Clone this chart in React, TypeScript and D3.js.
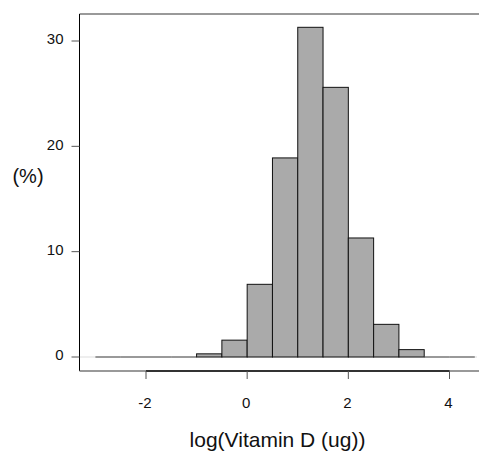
import React from "react";
import * as d3 from "d3";

const binStarts = [-3, -2.5, -2, -1.5, -1, -0.5, 0, 0.5, 1, 1.5, 2, 2.5, 3, 3.5, 4];
const binWidth = 0.5;
const percents = [0, 0, 0, 0, 0.3, 1.6, 6.9, 18.9, 31.3, 25.6, 11.3, 3.1, 0.7, 0, 0];
const xTicks = [-2, 0, 2, 4];
const yTicks = [0, 10, 20, 30];
const xTitle = "log(Vitamin D (ug))";
const yTitle = "(%)";

export default function App() {
  const W = 479, H = 452;
  const x = d3.scaleLinear().domain([-2, 4]).range([146, 449.5]);
  const y = d3.scaleLinear().domain([0, 30]).range([357, 41]);
  const left = 79.5, top = 14, bottom = 371, right = 479;
  const font = "Liberation Sans, Arial, sans-serif";
  return (
    <svg width={W} height={H} style={{ position: "absolute", left: 0, top: 0 }} fontFamily={font}>
      <rect width={W} height={H} fill="#fff" />
      <line x1={left} x2={right} y1={top} y2={top} stroke="#777" strokeWidth={1.5} />
      <line x1={left} x2={right - 2} y1={y(0)} y2={y(0)} stroke="#ddd" strokeWidth={1} />
      {binStarts.map((b, i) => {
        const x0 = x(b), x1 = x(b + binWidth);
        const yt = y(percents[i]);
        if (percents[i] === 0) {
          return <line key={i} x1={x0} x2={x1} y1={y(0)} y2={y(0)} stroke="#444" strokeWidth={1} />;
        }
        return (
          <rect key={i} x={x0} y={yt} width={x1 - x0} height={y(0) - yt} fill="#aaaaaa" stroke="#111" strokeWidth={1} />
        );
      })}
      <line x1={left} x2={left} y1={top} y2={bottom} stroke="#000" strokeWidth={1} />
      {yTicks.map((t) => (
        <g key={t}>
          <line x1={left - 8} x2={left} y1={y(t)} y2={y(t)} stroke="#555" strokeWidth={1} />
          <text x={63.5} y={y(t) - 2} dy="0.35em" textAnchor="end" fontSize={15} fill="#111">{t}</text>
        </g>
      ))}
      <line x1={left} x2={right} y1={bottom} y2={bottom} stroke="#777" strokeWidth={1.5} />
      <line x1={x(-2)} x2={x(4)} y1={bottom} y2={bottom} stroke="#111" strokeWidth={1.5} />
      {xTicks.map((t) => (
        <g key={t}>
          <line x1={x(t)} x2={x(t)} y1={bottom} y2={bottom + 8} stroke="#555" strokeWidth={1} />
          <text x={x(t) - 1} y={408} textAnchor="middle" fontSize={15} fill="#111">{t}</text>
        </g>
      ))}
      <text x={28} y={183} textAnchor="middle" fontSize={20} fill="#111">{yTitle}</text>
      <text x={277.5} y={447} textAnchor="middle" fontSize={21} fill="#111">{xTitle}</text>
    </svg>
  );
}
